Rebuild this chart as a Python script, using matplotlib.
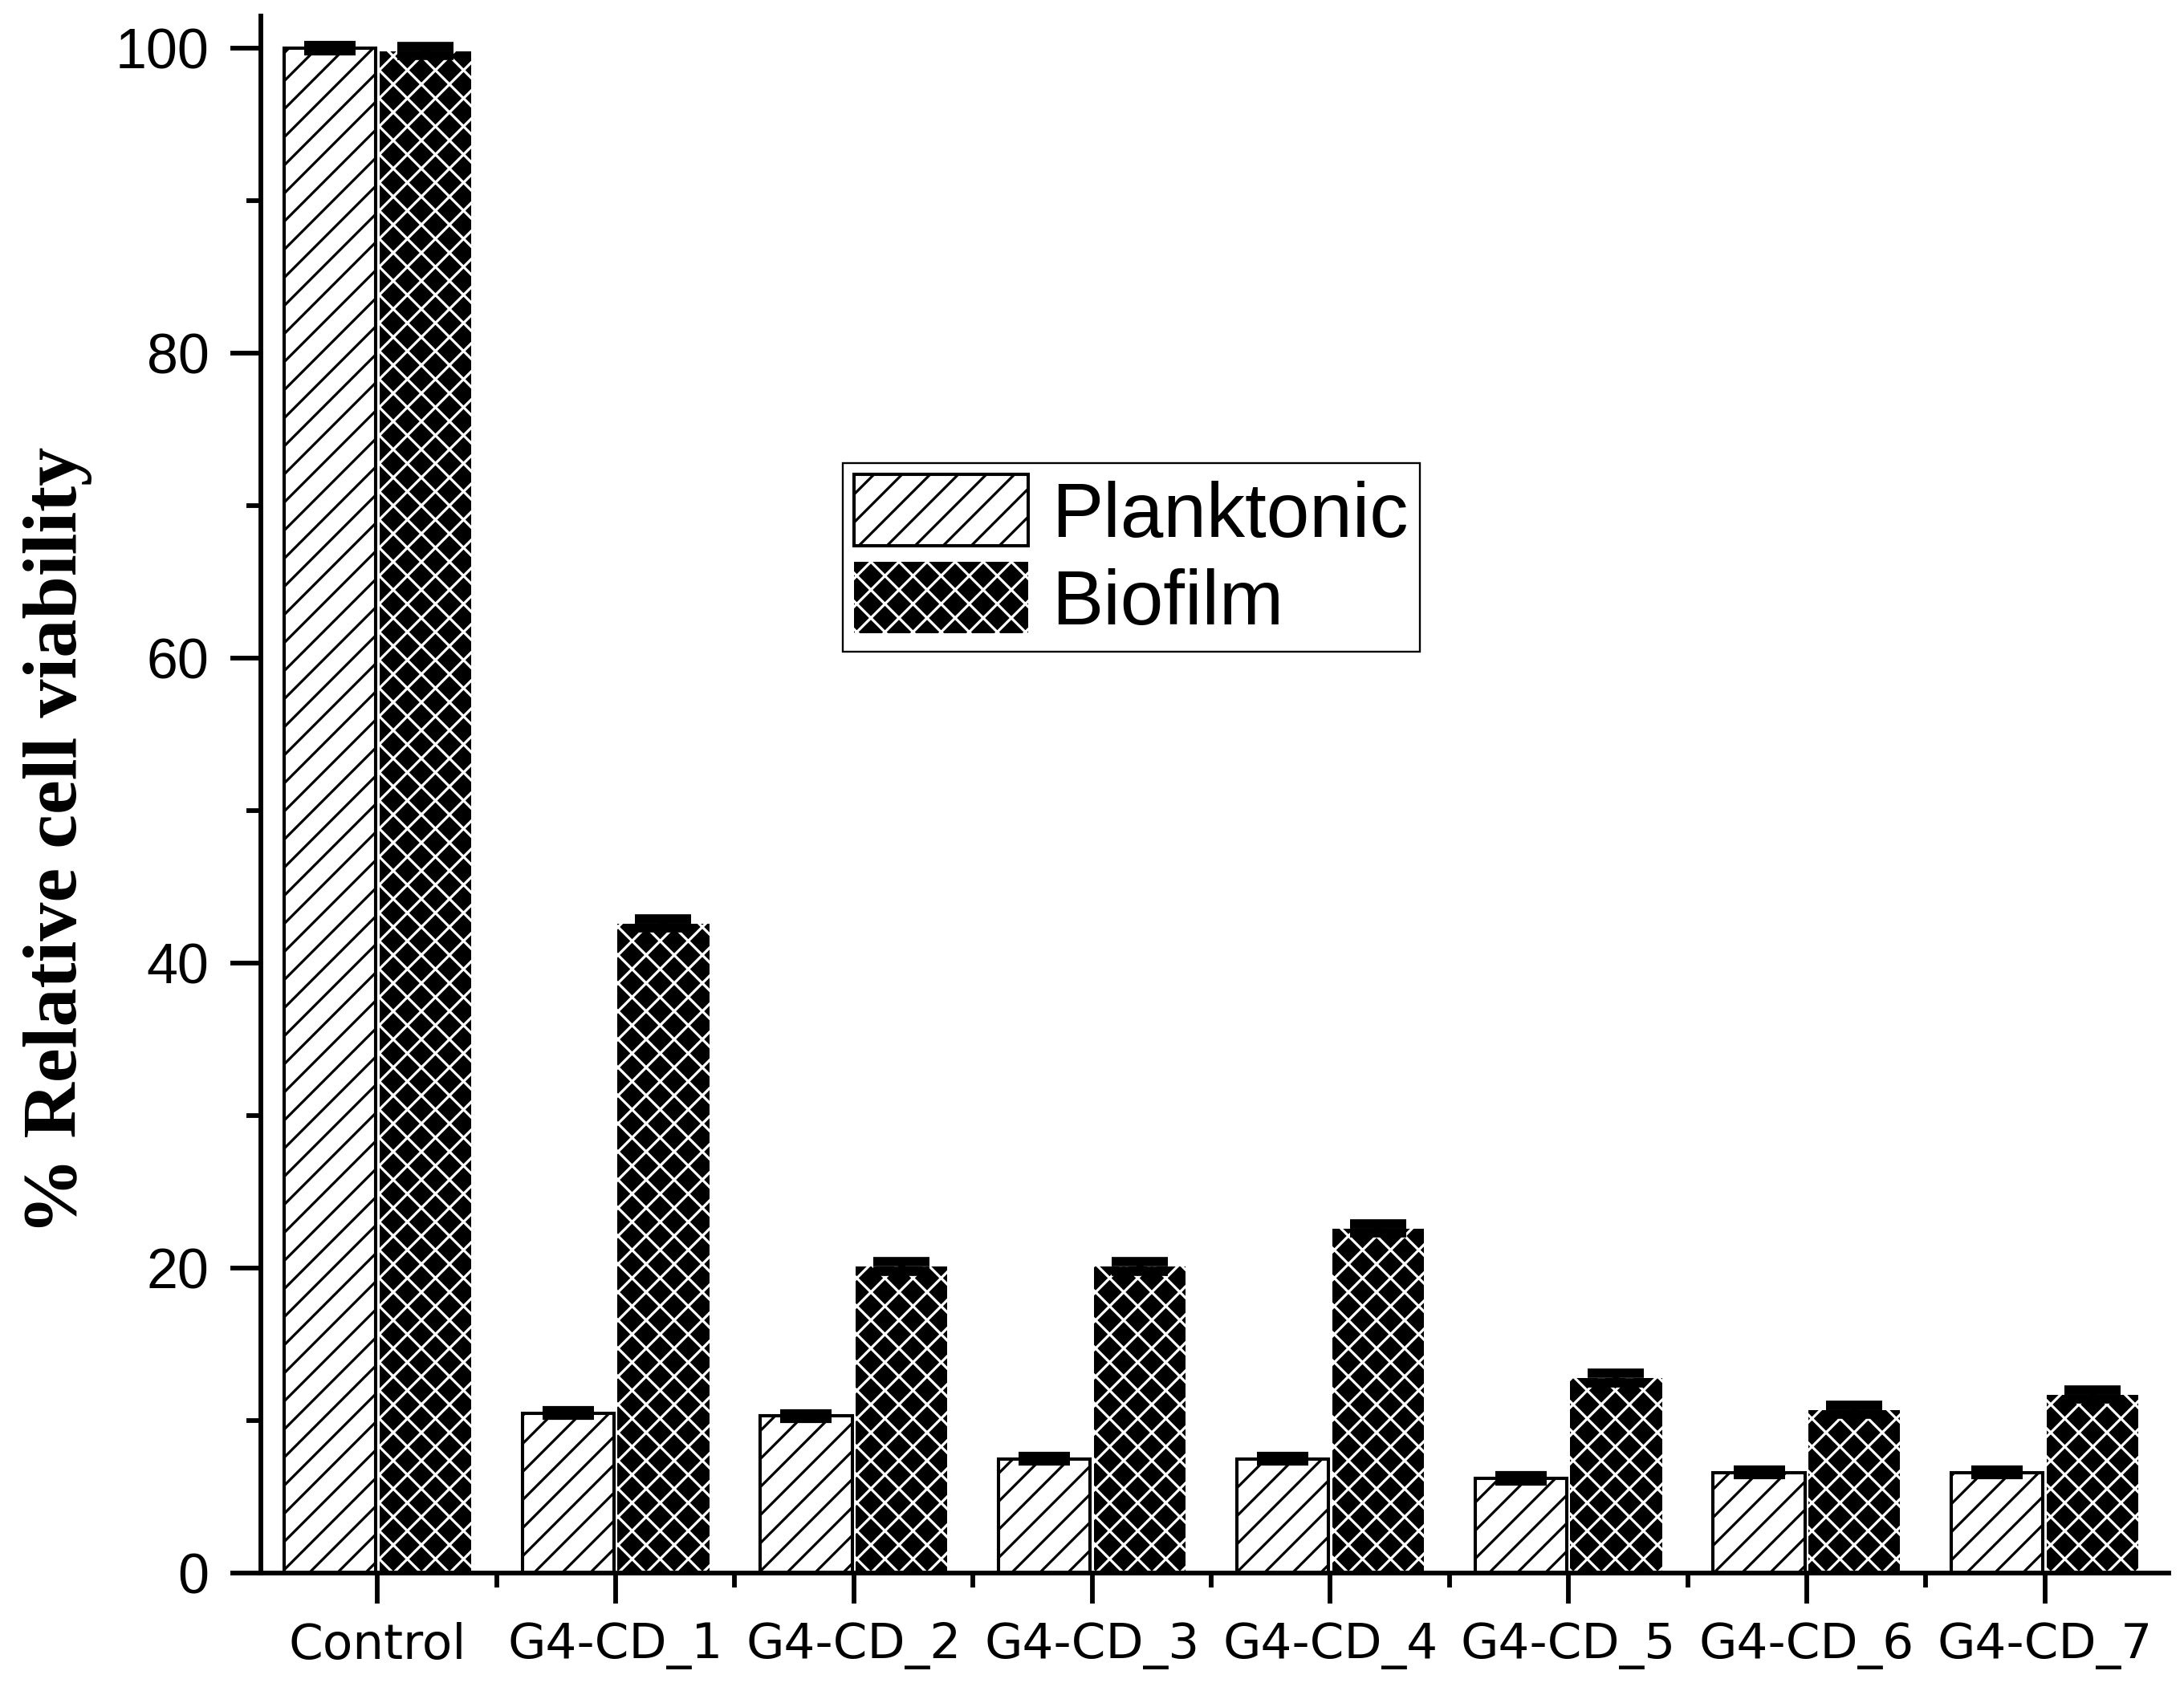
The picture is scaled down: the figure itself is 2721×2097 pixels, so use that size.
import numpy as np
import matplotlib
matplotlib.use("Agg")
import matplotlib.pyplot as plt
from matplotlib.ticker import MultipleLocator, FixedLocator

# data
categories = ['Control', 'G4-CD_1', 'G4-CD_2', 'G4-CD_3', 'G4-CD_4',
              'G4-CD_5', 'G4-CD_6', 'G4-CD_7']
planktonic = [100.0, 10.5, 10.3, 7.5, 7.5, 6.2, 6.6, 6.6]
planktonic_err = [0.2, 0.2, 0.2, 0.2, 0.2, 0.2, 0.2, 0.2]
biofilm = [99.8, 42.6, 20.1, 20.1, 22.6, 12.8, 10.7, 11.7]
biofilm_err = [0.3, 0.3, 0.3, 0.3, 0.3, 0.3, 0.3, 0.3]

DPI = 210
plt.rcParams['hatch.linewidth'] = 1.1

fig = plt.figure(figsize=(2721.01 / DPI, 2097.01 / DPI), dpi=DPI)
ax = fig.add_axes([0.1194, 0.0653, 0.8736, 0.9252])

x = np.arange(len(categories))
w = 0.385

ax.bar(x - 0.2, planktonic, w, color='white', edgecolor='black',
       linewidth=1.4, hatch='//', label='Planktonic', zorder=2)
ax.bar(x + 0.2, biofilm, w, color='black', edgecolor='white',
       linewidth=0, hatch='xx', label='Biofilm', zorder=2)

# short, heavy error bars drawn over the bar tops
ax.errorbar(x - 0.2, planktonic, yerr=planktonic_err, fmt='none',
            ecolor='black', elinewidth=3, capsize=11, capthick=3.5, zorder=3)
ax.errorbar(x + 0.2, biofilm, yerr=biofilm_err, fmt='none',
            ecolor='black', elinewidth=3, capsize=12, capthick=4, zorder=3)

ax.set_xlim(-0.49, 7.52)
ax.set_ylim(0, 102.1)

for side in ['top', 'right']:
    ax.spines[side].set_visible(False)
for side in ['left', 'bottom']:
    ax.spines[side].set_linewidth(2.0)

ax.yaxis.set_major_locator(MultipleLocator(20))
ax.yaxis.set_minor_locator(MultipleLocator(10))
ax.set_xticks(x)
ax.xaxis.set_minor_locator(FixedLocator(x[:-1] + 0.5))
ax.set_xticklabels(categories, fontfamily='DejaVu Sans', fontsize=21)
for lab in ax.get_yticklabels():
    lab.set_fontfamily('Liberation Sans')
    lab.set_fontsize(24)

ax.tick_params(which='major', direction='out', length=13, width=2.0, pad=8)
ax.tick_params(which='minor', direction='out', length=6.3, width=2.0)
ax.tick_params(axis='y', which='major', pad=9)

ax.set_ylabel('% Relative cell viability', fontfamily='Liberation Serif',
              fontweight='bold', fontsize=33)
ax.yaxis.set_label_coords(-0.0883, 0.4706)

leg = ax.legend(loc='upper left', bbox_to_anchor=(0.305, 0.713),
                prop={'family': 'Liberation Sans', 'size': 33},
                fancybox=False, frameon=True, edgecolor='black',
                handlelength=2.25, handleheight=1.05, labelspacing=0.12,
                borderpad=0.15, handletextpad=0.3, borderaxespad=0)
leg.get_frame().set_linewidth(0.8)
leg.get_frame().set_alpha(None)
leg.legend_handles[0].set_linewidth(1.4)

fig.savefig('out.png', dpi=DPI, facecolor='white')
